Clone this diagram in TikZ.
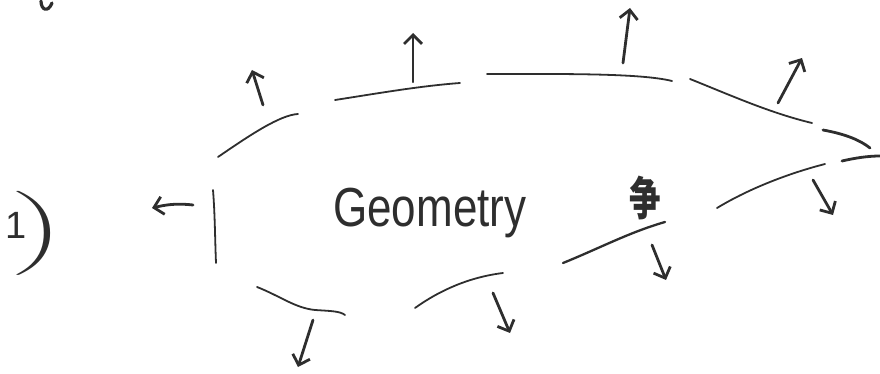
\documentclass[tikz,border=0pt]{standalone}
\usepackage{fontspec}
\setmainfont{Liberation Sans}
\newfontfamily\cjk{Noto Sans CJK SC}
\usetikzlibrary{arrows.meta}
\definecolor{ink}{HTML}{2E2E2E}
\tikzset{
  edge/.style={draw=ink, line width=1.8pt, line cap=round},
  normal/.style={draw=ink, line width=2.8pt, line cap=round,
    -{Straight Barb[length=9pt,width=18pt,line width=2.8pt]}},
  label/.style={text=ink, inner sep=0pt}
}
\begin{document}
\begin{tikzpicture}[x=1pt,y=-1pt]
\useasboundingbox (0,0) rectangle (880,374);
% top-left fragment
\draw[edge, line width=3.2pt] (41,1) .. controls (41,10) and (48,13) .. (52,3);
% label 1)
\node[label, anchor=base west, font=\fontsize{38}{38}\selectfont] (num) at (5,238) {1};
\node[label] (par) at (40,233) {\scalebox{6.5}[2.8]{$\Biggr)$}};
% text
\node[label, anchor=base west, font=\fontsize{44}{48}\selectfont] (geo) at (333,226) {\scalebox{1}[1.25]{Geometry}};
\node[label, font=\fontsize{42}{42}\selectfont\cjk\bfseries] (sym) at (645,198) {\scalebox{0.75}[1.1]{争}};
% boundary segments
\coordinate (s1a) at (213,190); \coordinate (s1b) at (216,263);
\draw[edge] (s1a) .. controls (215,215) and (215,240) .. (s1b);
\coordinate (s2a) at (218,157); \coordinate (s2b) at (298,114);
\draw[edge] (s2a) .. controls (250,135) and (280,115) .. (s2b);
\coordinate (s3a) at (335,100); \coordinate (s3b) at (460,83);
\draw[edge] (s3a) .. controls (380,93) and (420,86) .. (s3b);
\coordinate (s4a) at (487,74); \coordinate (s4b) at (672,81);
\draw[edge] (s4a) .. controls (560,74) and (640,73) .. (s4b);
\coordinate (s5a) at (690,79); \coordinate (s5b) at (812,123);
\draw[edge] (s5a) .. controls (730,95) and (770,113) .. (s5b);
\coordinate (s6a) at (823,130); \coordinate (s6b) at (870,148);
\draw[edge, line width=2.8pt] (s6a) .. controls (845,134) and (860,140) .. (s6b);
\coordinate (s7a) at (842,161); \coordinate (s7b) at (880,156);
\draw[edge, line width=2.8pt] (s7a) .. controls (855,158) and (868,156) .. (s7b);
\coordinate (s8a) at (717,208); \coordinate (s8b) at (825,164);
\draw[edge] (s8a) .. controls (750,188) and (790,173) .. (s8b);
\coordinate (s9a) at (563,263); \coordinate (s9b) at (665,222);
\draw[edge, line width=2.3pt] (s9a) .. controls (600,248) and (630,232) .. (s9b);
\coordinate (s10a) at (415,308); \coordinate (s10b) at (503,273);
\draw[edge] (s10a) .. controls (440,290) and (470,277) .. (s10b);
\coordinate (s11a) at (257,287); \coordinate (s11m) at (315,310); \coordinate (s11b) at (345,315);
\draw[edge] (s11a) .. controls (280,296) and (295,308) .. (s11m) .. controls (330,311) and (340,311) .. (s11b);
% normals
\coordinate (aA) at (193,205); \coordinate (hA) at (152,208);
\draw[normal] (aA) .. controls (175,203) and (165,205) .. (hA);
\coordinate (aB) at (263,105); \coordinate (hB) at (252,70);
\draw[normal] (aB) -- (hB);
\coordinate (aC) at (413,82); \coordinate (hC) at (413,33);
\draw[normal, line width=2.2pt] (aC) -- (hC);
\coordinate (aD) at (623,63); \coordinate (hD) at (630,8);
\draw[normal] (aD) -- (hD);
\coordinate (aE) at (778,103); \coordinate (hE) at (802,58);
\draw[normal] (aE) -- (hE);
\coordinate (aF) at (813,180); \coordinate (hF) at (833,215);
\draw[normal] (aF) -- (hF);
\coordinate (aG) at (652,245); \coordinate (hG) at (666,280);
\draw[normal] (aG) -- (hG);
\coordinate (aH) at (493,293); \coordinate (hH) at (510,333);
\draw[normal] (aH) -- (hH);
\coordinate (aI) at (313,320); \coordinate (hI) at (298,367);
\draw[normal] (aI) -- (hI);
\end{tikzpicture}
\end{document}
